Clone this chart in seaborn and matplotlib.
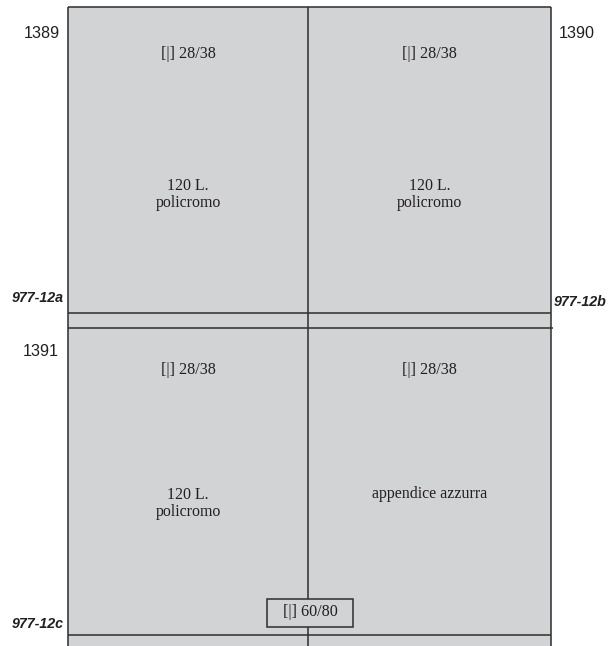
import matplotlib
matplotlib.use("Agg")
import matplotlib.pyplot as plt
from matplotlib.patches import Rectangle
import seaborn as sns

# ---- data (texts of the sheet diagram) ----
row_numbers = ["1389", "1390", "1391"]
sheet_codes = ["977-12a", "977-12b", "977-12c"]
cell_values = ["[|] 28/38", "[|] 28/38", "[|] 28/38", "[|] 28/38"]
cell_subjects = ["120 L.\npolicromo", "120 L.\npolicromo", "120 L.\npolicromo", "appendice azzurra"]
gutter_label = "[|] 60/80"

# ---- layout (pixel coordinates) ----
W, H = 609, 646
X0, XM, X1 = 68, 308, 551
Y_TOP, Y_G1, Y_G2, Y_BOT = 7, 313, 327.5, 634.5
FILL = "#d1d3d4"
LINE = "#333333"
INK = "#231f20"

sns.set_theme(style="white")
plt.rcParams["font.family"] = ["Liberation Serif", "DejaVu Serif"]

fig = plt.figure(figsize=(W / 100, H / 100), dpi=100)
ax = fig.add_axes([0, 0, 1, 1])
ax.set_xlim(0, W)
ax.set_ylim(H, 0)
ax.axis("off")

# sheet background
ax.add_patch(Rectangle((X0, Y_TOP), X1 - X0, H - Y_TOP, facecolor=FILL, edgecolor="none", zorder=0))

# frame and separations
lw = 1.15
ax.vlines([X0, XM, X1], Y_TOP, H, colors=LINE, linewidth=lw, zorder=2)
ax.hlines([Y_TOP, Y_G1, Y_BOT], X0, X1, colors=LINE, linewidth=lw, zorder=2)
ax.hlines([Y_G2], X0, X1 + 2, colors=LINE, linewidth=lw, zorder=2)

# cells
col_centers = [(X0 + XM) / 2, (XM + X1) / 2]
top_y = [53.5, 370]
subj_y = [194.5, 503.5]
for i, (val, subj) in enumerate(zip(cell_values, cell_subjects)):
    r, c = divmod(i, 2)
    ax.text(col_centers[c], top_y[r], val, ha="center", va="center",
            fontsize=11.6, color=INK, family=["Liberation Serif"])
    yy = subj_y[r] if "\n" in subj else 494
    ax.text(col_centers[c], yy, subj, ha="center", va="center", linespacing=1.1,
            fontsize=11.4, color=INK, family=["Liberation Serif"])

# row numbers
num_font = dict(fontsize=11.6, color=INK, family=["Liberation Sans"], va="center")
ax.text(60, 33.5, row_numbers[0], ha="right", **num_font)
ax.text(559, 33.5, row_numbers[1], ha="left", **num_font)
ax.text(59, 351, row_numbers[2], ha="right", **num_font)

# sheet codes
code_font = dict(fontsize=10.3, color=INK, family=["Liberation Sans"], fontweight="bold",
                 fontstyle="italic", va="center")
ax.text(64, 297.5, sheet_codes[0], ha="right", **code_font)
ax.text(554, 302, sheet_codes[1], ha="left", **code_font)
ax.text(64, 623.5, sheet_codes[2], ha="right", **code_font)

# gutter box
ax.add_patch(Rectangle((267, 598.5), 86, 28.5, facecolor=FILL, edgecolor=LINE, linewidth=lw, zorder=3))
ax.text(310.5, 612.5, gutter_label, ha="center", va="center", fontsize=11.6, color=INK,
        family=["Liberation Serif"], zorder=4)

fig.savefig("out.png", dpi=100, facecolor="white")
